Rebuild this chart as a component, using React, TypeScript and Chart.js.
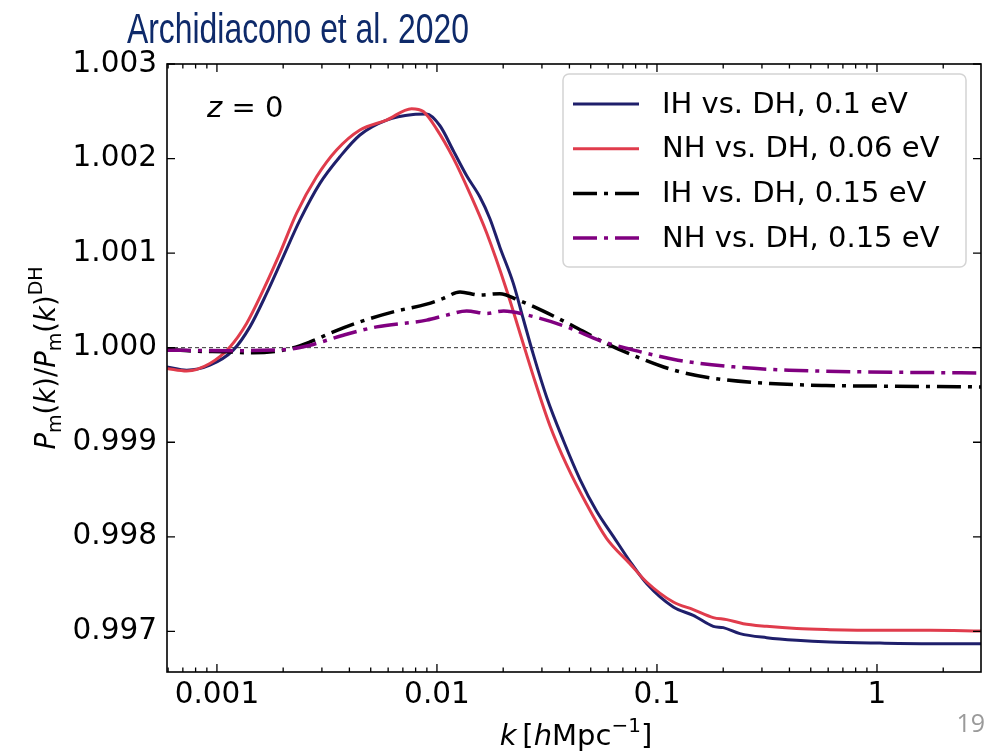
import React, { useEffect, useRef } from "react";
import { Chart, registerables } from "chart.js";

Chart.register(...registerables);

const TITLE = "Archidiacono et al. 2020";
const PAGE_NUMBER = "19";
const LEGEND_LABELS = [
  "IH vs. DH, 0.1 eV",
  "NH vs. DH, 0.06 eV",
  "IH vs. DH, 0.15 eV",
  "NH vs. DH, 0.15 eV",
];
const X_TICKS = [0.001, 0.01, 0.1, 1];
const X_TICK_LABELS = ["0.001", "0.01", "0.1", "1"];
const Y_TICKS = [0.997, 0.998, 0.999, 1.0, 1.001, 1.002, 1.003];
const Y_TICK_LABELS = ["0.997", "0.998", "0.999", "1.000", "1.001", "1.002", "1.003"];

// IH vs DH, 0.1 eV
const kIH01 = [5.93e-4, 7.28e-4, 9.29e-4, 1.186e-3, 1.412e-3, 1.682e-3, 2.001e-3, 2.383e-3, 2.938e-3, 3.622e-3, 4.467e-3, 5.906e-3, 7.8e-3, 8.98e-3, 1.032e-2, 1.187e-2, 1.365e-2, 1.568e-2, 1.741e-2, 1.932e-2, 2.222e-2, 2.467e-2, 2.739e-2, 3.153e-2, 3.751e-2, 4.467e-2, 5.32e-2, 6.33e-2, 7.53e-2, 8.97e-2, 0.1186, 0.1462, 0.1803, 0.2001, 0.2382, 0.3152, 0.4315, 0.611, 1.032, 1.742, 2.97];
const rIH01 = [0.999797, 0.999762, 0.999815, 0.999974, 1.00022, 1.000574, 1.000961, 1.001349, 1.001738, 1.002019, 1.002249, 1.002407, 1.002466, 1.002471, 1.002347, 1.002083, 1.001818, 1.001593, 1.001364, 1.001063, 1.000683, 1.000306, 0.999931, 0.999476, 0.999021, 0.998608, 0.99827, 0.998005, 0.997741, 0.997505, 0.997257, 0.997169, 0.997053, 0.997039, 0.996976, 0.996933, 0.996905, 0.996887, 0.996876, 0.99687, 0.99687];

// NH vs DH, 0.06 eV
const kNH006 = [5.93e-4, 7.28e-4, 9.29e-4, 1.146e-3, 1.364e-3, 1.623e-3, 1.931e-3, 2.301e-3, 2.837e-3, 3.497e-3, 4.467e-3, 5.906e-3, 7.67e-3, 8.67e-3, 9.97e-3, 1.187e-2, 1.413e-2, 1.683e-2, 2.074e-2, 2.385e-2, 2.739e-2, 3.266e-2, 3.89e-2, 4.79e-2, 5.9e-2, 7.53e-2, 8.97e-2, 0.1186, 0.1462, 0.1803, 0.2075, 0.2466, 0.3152, 0.4315, 0.611, 1.032, 1.742, 2.97];
const rNH006 = [0.99978, 0.999754, 0.999833, 1.000008, 1.000256, 1.000608, 1.000997, 1.00142, 1.001807, 1.00209, 1.002302, 1.002407, 1.002528, 1.002497, 1.002312, 1.002005, 1.001629, 1.001212, 1.000608, 1.000153, 0.999702, 0.999172, 0.998757, 0.998344, 0.997984, 0.997716, 0.997522, 0.99731, 0.99723, 0.997145, 0.997124, 0.997081, 0.997053, 0.997029, 0.997018, 0.997011, 0.997011, 0.997003];

// IH vs DH, 0.15 eV
const kIH015 = [5.93e-4, 7.8e-4, 1.107e-3, 1.462e-3, 2.074e-3, 2.65e-3, 3.38e-3, 4.467e-3, 6.33e-3, 8.98e-3, 1.069e-2, 1.273e-2, 1.568e-2, 1.932e-2, 2.344e-2, 3.2e-2, 4.37e-2, 5.96e-2, 8.11e-2, 0.1195, 0.1832, 0.3266, 0.586, 1.047, 2.97];
const rIH015 = [0.999981, 0.999963, 0.999956, 0.999945, 0.999981, 1.000061, 1.000167, 1.000273, 1.000379, 1.00046, 1.000521, 1.00059, 1.000556, 1.000571, 1.000503, 1.000362, 1.000203, 1.000037, 0.999903, 0.999762, 0.999674, 0.999621, 0.9996, 0.999593, 0.999585];

// NH vs DH, 0.15 eV
const kNH015 = [5.93e-4, 1.107e-3, 2.074e-3, 2.65e-3, 3.75e-3, 5.32e-3, 8.98e-3, 1.106e-2, 1.365e-2, 1.683e-2, 2.009e-2, 2.636e-2, 3.89e-2, 5.73e-2, 8.43e-2, 0.1245, 0.2224, 0.398, 0.863, 2.97];
const rNH015 = [0.999974, 0.999968, 0.999981, 1.000026, 1.000132, 1.00022, 1.000291, 1.000344, 1.000389, 1.000362, 1.000389, 1.000339, 1.00022, 1.000061, 0.999956, 0.999868, 0.999797, 0.999762, 0.999744, 0.999733];

const X_MIN = 5.93e-4;
const X_MAX = 2.97;
const Y_MIN = 0.99657;
const Y_MAX = 1.003;

const COLORS = ["#1f1f6b", "#e03c4c", "#000000", "#800080"];
const DASHDOT = [24, 7, 4, 7];
const STYLES = [
  { color: COLORS[0], width: 3, dash: [] as number[] },
  { color: COLORS[1], width: 3, dash: [] as number[] },
  { color: COLORS[2], width: 3.5, dash: DASHDOT },
  { color: COLORS[3], width: 3.5, dash: DASHDOT },
];

const FONT = '"DejaVu Sans"';

type Run = { t: string; it?: boolean; s?: number; dy?: number };

function drawRuns(ctx: CanvasRenderingContext2D, runs: Run[], x: number, y: number, base: number) {
  const fontOf = (r: Run) => `${r.it ? "italic " : ""}${r.s ?? base}px ${FONT}`;
  let total = 0;
  for (const r of runs) {
    ctx.font = fontOf(r);
    total += ctx.measureText(r.t).width;
  }
  let cx = x - total / 2;
  ctx.textAlign = "left";
  ctx.textBaseline = "alphabetic";
  for (const r of runs) {
    ctx.font = fontOf(r);
    ctx.fillText(r.t, cx, y + (r.dy ?? 0));
    cx += ctx.measureText(r.t).width;
  }
}

const decor = {
  id: "decor",
  beforeDatasetsDraw(chart: any) {
    const { ctx, chartArea: a, scales } = chart;
    const y1 = scales.y.getPixelForValue(1.0);
    ctx.save();
    ctx.strokeStyle = "#333";
    ctx.lineWidth = 1;
    ctx.setLineDash([4, 3]);
    ctx.beginPath();
    ctx.moveTo(a.left, y1);
    ctx.lineTo(a.right, y1);
    ctx.stroke();
    ctx.restore();
  },
  afterDatasetsDraw(chart: any) {
    const { ctx, chartArea: a, scales } = chart;
    const xs = scales.x;
    const ys = scales.y;
    ctx.save();
    ctx.strokeStyle = "#000";
    ctx.lineWidth = 1.6;
    ctx.setLineDash([]);
    ctx.strokeRect(a.left, a.top, a.right - a.left, a.bottom - a.top);
    ctx.lineWidth = 1.3;
    const major = 8;
    const minor = 4.5;
    ctx.beginPath();
    for (const v of X_TICKS) {
      const px = xs.getPixelForValue(v);
      ctx.moveTo(px, a.bottom);
      ctx.lineTo(px, a.bottom - major);
      ctx.moveTo(px, a.top);
      ctx.lineTo(px, a.top + major);
    }
    for (let d = -4; d <= 0; d++) {
      for (let m = 2; m <= 9; m++) {
        const v = m * Math.pow(10, d);
        if (v < X_MIN || v > X_MAX) continue;
        const px = xs.getPixelForValue(v);
        ctx.moveTo(px, a.bottom);
        ctx.lineTo(px, a.bottom - minor);
        ctx.moveTo(px, a.top);
        ctx.lineTo(px, a.top + minor);
      }
    }
    for (const v of Y_TICKS) {
      const py = ys.getPixelForValue(v);
      ctx.moveTo(a.left, py);
      ctx.lineTo(a.left + major, py);
      ctx.moveTo(a.right, py);
      ctx.lineTo(a.right - major, py);
    }
    ctx.stroke();
    ctx.restore();

    // z = 0 label
    ctx.save();
    ctx.fillStyle = "#000";
    ctx.textBaseline = "alphabetic";
    ctx.textAlign = "left";
    ctx.font = `italic 29px ${FONT}`;
    ctx.fillText("z", 207, 117);
    const zw = ctx.measureText("z").width;
    ctx.font = `29px ${FONT}`;
    ctx.fillText(" = 0", 207 + zw, 117);
    ctx.restore();

    // Legend
    ctx.save();
    const lx = 563, ly = 74, lw = 403, lh = 193, r = 6;
    ctx.fillStyle = "rgba(255,255,255,0.85)";
    ctx.strokeStyle = "#d4d4d4";
    ctx.lineWidth = 1.5;
    ctx.beginPath();
    ctx.moveTo(lx + r, ly);
    ctx.lineTo(lx + lw - r, ly);
    ctx.arcTo(lx + lw, ly, lx + lw, ly + r, r);
    ctx.lineTo(lx + lw, ly + lh - r);
    ctx.arcTo(lx + lw, ly + lh, lx + lw - r, ly + lh, r);
    ctx.lineTo(lx + r, ly + lh);
    ctx.arcTo(lx, ly + lh, lx, ly + lh - r, r);
    ctx.lineTo(lx, ly + r);
    ctx.arcTo(lx, ly, lx + r, ly, r);
    ctx.closePath();
    ctx.fill();
    ctx.stroke();
    LEGEND_LABELS.forEach((lab, i) => {
      const ry = 104 + i * 44.7;
      const st = STYLES[i];
      ctx.strokeStyle = st.color;
      ctx.lineWidth = st.width;
      ctx.setLineDash(st.dash);
      ctx.beginPath();
      ctx.moveTo(573, ry);
      ctx.lineTo(639, ry);
      ctx.stroke();
      ctx.setLineDash([]);
      ctx.fillStyle = "#000";
      ctx.font = `29px ${FONT}`;
      ctx.textAlign = "left";
      ctx.textBaseline = "middle";
      ctx.fillText(lab, 662, ry + 1);
    });
    ctx.restore();
  },
  afterDraw(chart: any) {
    const { ctx } = chart;
    // Title
    ctx.save();
    ctx.fillStyle = "#0e2a6a";
    ctx.font = `42px "Liberation Sans"`;
    ctx.textAlign = "left";
    ctx.textBaseline = "alphabetic";
    const w = ctx.measureText(TITLE).width;
    ctx.translate(127, 43);
    ctx.scale(342 / w, 1);
    ctx.fillText(TITLE, 0, 0);
    ctx.restore();

    // y-axis title (rotated)
    ctx.save();
    ctx.fillStyle = "#000";
    ctx.translate(55, 358);
    ctx.rotate(-Math.PI / 2);
    drawRuns(
      ctx,
      [
        { t: "P", it: true },
        { t: "m", s: 19, dy: 6 },
        { t: "(" },
        { t: "k", it: true },
        { t: ")/" },
        { t: "P", it: true },
        { t: "m", s: 19, dy: 6 },
        { t: "(" },
        { t: "k", it: true },
        { t: ")" },
        { t: "DH", s: 19, dy: -13 },
      ],
      0,
      0,
      27.5
    );
    ctx.restore();

    // x-axis title
    ctx.save();
    ctx.fillStyle = "#000";
    drawRuns(
      ctx,
      [
        { t: "k", it: true },
        { t: "\u2009[" },
        { t: "h", it: true },
        { t: "Mpc" },
        { t: "\u22121", s: 20, dy: -13 },
        { t: "]" },
      ],
      576,
      745,
      29
    );
    ctx.restore();

    // page number
    ctx.save();
    ctx.fillStyle = "#9a9a9a";
    ctx.font = `25px "Open Sans"`;
    ctx.textAlign = "right";
    ctx.textBaseline = "alphabetic";
    ctx.fillText(PAGE_NUMBER, 985, 732);
    ctx.restore();
  },
};

function toPoints(ks: number[], rs: number[]) {
  return ks.map((k, i) => ({ x: k, y: rs[i] }));
}

export default function App() {
  const ref = useRef<HTMLCanvasElement | null>(null);
  useEffect(() => {
    if (!ref.current) return;
    const series = [
      toPoints(kIH01, rIH01),
      toPoints(kNH006, rNH006),
      toPoints(kIH015, rIH015),
      toPoints(kNH015, rNH015),
    ];
    const chart = new Chart(ref.current, {
      type: "scatter",
      data: {
        datasets: series.map((d, i) => ({
          label: LEGEND_LABELS[i],
          data: d,
          showLine: true,
          borderColor: STYLES[i].color,
          backgroundColor: STYLES[i].color,
          borderWidth: STYLES[i].width,
          borderDash: STYLES[i].dash,
          pointRadius: 0,
          cubicInterpolationMode: "monotone",
          order: 4 - i,
        })),
      },
      options: {
        responsive: false,
        animation: false,
        devicePixelRatio: 1,
        layout: { padding: { top: 64, right: 18, left: 0, bottom: 0 } },
        plugins: {
          legend: { display: false },
          tooltip: { enabled: false },
          title: { display: false },
        },
        scales: {
          x: {
            type: "logarithmic",
            min: X_MIN,
            max: X_MAX,
            grid: { display: false, drawTicks: false },
            border: { display: false },
            afterBuildTicks: (s: any) => {
              s.ticks = X_TICKS.map((v) => ({ value: v }));
            },
            afterFit: (s: any) => {
              s.height = 81;
            },
            ticks: {
              autoSkip: false,
              maxRotation: 0,
              padding: 6,
              color: "#000",
              font: { family: "DejaVu Sans", size: 29.5 },
              callback: (_v: any, i: number) => X_TICK_LABELS[i],
            },
          },
          y: {
            type: "linear",
            min: Y_MIN,
            max: Y_MAX,
            grid: { display: false, drawTicks: false },
            border: { display: false },
            afterBuildTicks: (s: any) => {
              s.ticks = Y_TICKS.map((v) => ({ value: v }));
            },
            afterFit: (s: any) => {
              s.width = 167;
            },
            ticks: {
              autoSkip: false,
              padding: 10,
              color: "#000",
              font: { family: "DejaVu Sans", size: 29.5 },
              callback: (_v: any, i: number) => Y_TICK_LABELS[i],
            },
          },
        },
      } as any,
      plugins: [decor],
    });
    return () => chart.destroy();
  }, []);
  return (
    <div style={{ position: "fixed", left: 0, top: 0, width: 999, height: 753, background: "#fff" }}>
      <canvas ref={ref} width={999} height={753} style={{ display: "block", width: 999, height: 753 }} />
    </div>
  );
}
